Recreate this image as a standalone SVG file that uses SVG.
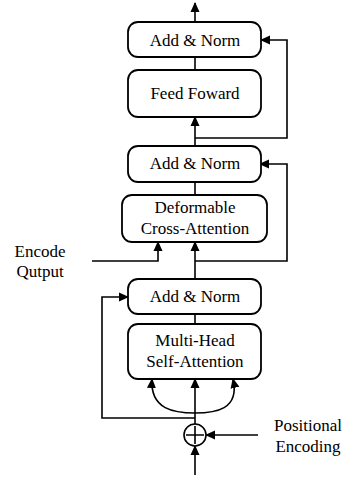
<svg xmlns="http://www.w3.org/2000/svg" width="353" height="477" viewBox="0 0 353 477">
<style>
.box{fill:#fff;stroke:#000;stroke-width:1.8}
.ln{fill:none;stroke:#000;stroke-width:1.6}
text{font-family:"Liberation Serif","Times New Roman",serif;font-size:17px;fill:#000;text-anchor:middle}
</style>
<defs>
<marker id="ah" markerWidth="10" markerHeight="10" refX="9" refY="5" orient="auto" markerUnits="userSpaceOnUse">
<path d="M0,0.5 L10,5 L0,9.5 Z" fill="#000"/>
</marker>
</defs>
<rect width="353" height="477" fill="#fff"/>
<g id="connectors">
<path class="ln" d="M195,22 V3" marker-end="url(#ah)"/>
<path class="ln" d="M195,57 V70"/>
<path class="ln" d="M195,146 V117" marker-end="url(#ah)"/>
<path class="ln" d="M195,138 H287 V40 H261" marker-end="url(#ah)"/>
<path class="ln" d="M195,182 V195"/>
<path class="ln" d="M195,279 V242" marker-end="url(#ah)"/>
<path class="ln" d="M195,261 H287 V164 H260" marker-end="url(#ah)"/>
<path class="ln" d="M92,261 H158 V242" marker-end="url(#ah)"/>
<path class="ln" d="M195,314 V324"/>
<path class="ln" d="M195,424 V379" marker-end="url(#ah)"/>
<path class="ln" d="M195,418 H102 V297 H128" marker-end="url(#ah)"/>
<path class="ln" d="M195,413 C215,413 240,410 233,379" marker-end="url(#ah)"/>
<path class="ln" d="M195,413 C175,413 150,410 152,379" marker-end="url(#ah)"/>
<path class="ln" d="M258,435 H206" marker-end="url(#ah)"/>
<path class="ln" d="M195,475 V446" marker-end="url(#ah)"/>
</g>
<g id="add-norm-top"><rect class="box" x="128" y="22" width="133" height="35" rx="10"/><text x="195" y="46">Add &amp; Norm</text></g>
<g id="feed-forward"><rect class="box" x="128" y="70" width="133" height="47" rx="10"/><text x="195" y="99">Feed Foward</text></g>
<g id="add-norm-mid"><rect class="box" x="128" y="146" width="133" height="36" rx="10"/><text x="195" y="169">Add &amp; Norm</text></g>
<g id="cross-attention"><rect class="box" x="122" y="195" width="145" height="47" rx="10"/><text x="195" y="213">Deformable</text><text x="195" y="234">Cross-Attention</text></g>
<g id="add-norm-bottom"><rect class="box" x="128" y="279" width="133" height="35" rx="10"/><text x="195" y="302">Add &amp; Norm</text></g>
<g id="self-attention"><rect class="box" x="128" y="324" width="133" height="55" rx="10"/><text x="195" y="346">Multi-Head</text><text x="195" y="367">Self-Attention</text></g>
<g id="plus"><circle cx="195" cy="435" r="11" fill="#fff" stroke="#000" stroke-width="1.6"/><path class="ln" d="M186,435 H204 M195,426 V444"/></g>
<g id="encode-output"><text x="40" y="257">Encode</text><text x="40" y="277">Qutput</text></g>
<g id="positional-encoding"><text x="308" y="431">Positional</text><text x="308" y="452">Encoding</text></g>
</svg>
